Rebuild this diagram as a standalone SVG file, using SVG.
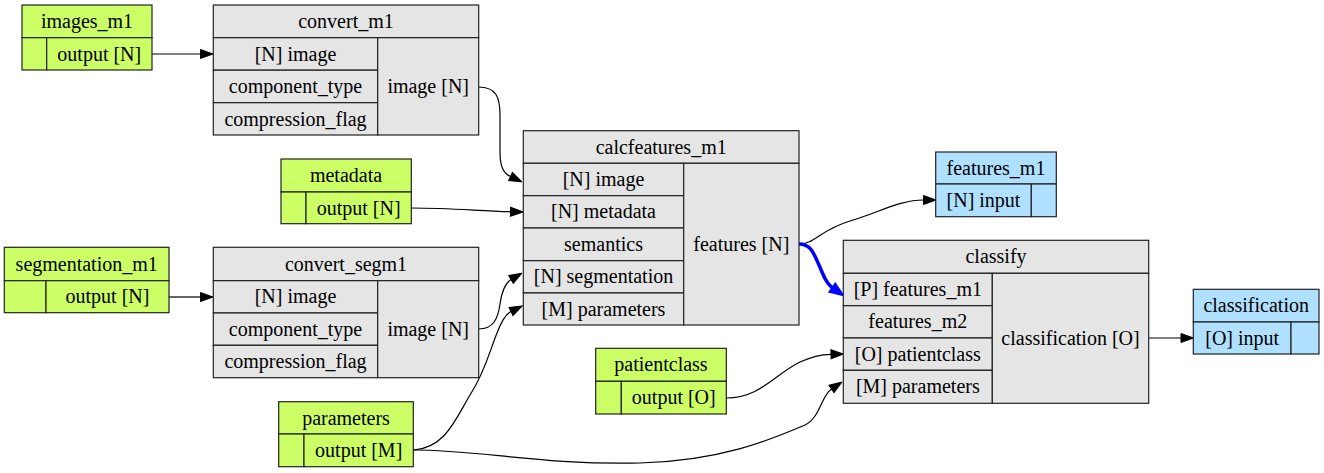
<svg xmlns="http://www.w3.org/2000/svg" width="1324" height="473" viewBox="0 0 1324 473">
<style>
.g{fill:#ccff66;stroke:#222;stroke-width:1.2}
.b{fill:#b0e0ff;stroke:#222;stroke-width:1.2}
.p{fill:#e5e5e5;stroke:#222;stroke-width:1.2}
.e{fill:none;stroke:#000;stroke-width:1.2}
.eb{fill:none;stroke:#0000ff;stroke-width:3.5}
.t{font-family:'Liberation Serif','Times New Roman',serif;font-size:20px;text-anchor:middle;fill:#000}
</style>
<defs>
<marker id="ah" markerUnits="userSpaceOnUse" markerWidth="14" markerHeight="11" viewBox="0 0 14 11" refX="1" refY="5.5" orient="auto"><path d="M1,1 L13.5,5.5 L1,10 z" fill="#000" stroke="#000" stroke-width="1"/></marker>
<marker id="ahb" markerUnits="userSpaceOnUse" markerWidth="16" markerHeight="13" viewBox="0 0 16 13" refX="1" refY="6.5" orient="auto"><path d="M1.5,1.5 L14.5,6.5 L1.5,11.5 z" fill="#0000ff" stroke="#0000ff" stroke-width="2"/></marker>
</defs>

<g id="connectors">
<path class="e" d="M152,54 L200.5,54" marker-end="url(#ah)"/>
<path class="e" d="M478.5,87 C496,87 500,97 500,115 L500,152 C500,166 503,173 510.5,176.5" marker-end="url(#ah)"/>
<path class="e" d="M411.5,208 C450,208 480,211 510.5,211.7" marker-end="url(#ah)"/>
<path class="e" d="M169,297 L200.5,297" marker-end="url(#ah)"/>
<path class="e" d="M478.5,329 C494,329 498,318 500,304 C502,290 505,283 511,279.5" marker-end="url(#ah)"/>
<path class="e" d="M413.5,450 C445,448 455,420 470,395 C485,372 490,350 497,333 C502,320 506,314 511,311.5" marker-end="url(#ah)"/>
<path class="e" d="M413.5,450 C480,450 540,465 640,463 C720,461 770,440 805,425 C820,418 821,396 831.5,389" marker-end="url(#ah)"/>
<path class="e" d="M799,244 C815,244 820,230 850,221 C880,212 900,200 923.5,200" marker-end="url(#ah)"/>
<path class="eb" d="M799,244 C811,244 814,254 819,265 C824,277 827,284 832,287.5" marker-end="url(#ahb)"/>
<path class="e" d="M726.5,398 C760,398 775,374 800,362 C813,356 822,354.5 831,354.3" marker-end="url(#ah)"/>
<path class="e" d="M1148.7,338 L1181,338" marker-end="url(#ah)"/>
</g>

<g id="images_m1">
<rect class="g" x="22" y="5" width="130" height="32.7"/>
<rect class="g" x="22" y="37.7" width="24.7" height="32.3"/>
<rect class="g" x="46.7" y="37.7" width="105.3" height="32.3"/>
<text class="t" x="87" y="28">images_m1</text>
<text class="t" x="99.3" y="60.5">output [N]</text>
</g>

<g id="convert_m1">
<rect class="p" x="213.3" y="5" width="265.4" height="32.7"/>
<rect class="p" x="213.3" y="37.7" width="164.4" height="32.5"/>
<rect class="p" x="213.3" y="70.2" width="164.4" height="32.5"/>
<rect class="p" x="213.3" y="102.7" width="164.4" height="32.3"/>
<rect class="p" x="377.7" y="37.7" width="101" height="97.3"/>
<text class="t" x="346" y="28">convert_m1</text>
<text class="t" x="295.5" y="60.5">[N] image</text>
<text class="t" x="295.5" y="93">component_type</text>
<text class="t" x="295.5" y="125.5">compression_flag</text>
<text class="t" x="428.2" y="93">image [N]</text>
</g>

<g id="metadata">
<rect class="g" x="281" y="159" width="130.3" height="33"/>
<rect class="g" x="281" y="192" width="25" height="31.7"/>
<rect class="g" x="306" y="192" width="105.3" height="31.7"/>
<text class="t" x="346" y="182">metadata</text>
<text class="t" x="358.7" y="214.5">output [N]</text>
</g>

<g id="segmentation_m1">
<rect class="g" x="4.3" y="247.3" width="164.7" height="33.4"/>
<rect class="g" x="4.3" y="280.7" width="41.7" height="32"/>
<rect class="g" x="46" y="280.7" width="123" height="32"/>
<text class="t" x="86.7" y="270.5">segmentation_m1</text>
<text class="t" x="107.5" y="303.2">output [N]</text>
</g>

<g id="convert_segm1">
<rect class="p" x="213.3" y="247.3" width="265.4" height="33.4"/>
<rect class="p" x="213.3" y="280.7" width="164.4" height="32.3"/>
<rect class="p" x="213.3" y="313" width="164.4" height="32.3"/>
<rect class="p" x="213.3" y="345.3" width="164.4" height="32.4"/>
<rect class="p" x="377.7" y="280.7" width="101" height="97"/>
<text class="t" x="346" y="270.5">convert_segm1</text>
<text class="t" x="295.5" y="303.3">[N] image</text>
<text class="t" x="295.5" y="335.6">component_type</text>
<text class="t" x="295.5" y="368">compression_flag</text>
<text class="t" x="428.2" y="335.7">image [N]</text>
</g>

<g id="parameters">
<rect class="g" x="278.7" y="401.7" width="134.6" height="32.3"/>
<rect class="g" x="278.7" y="434" width="25.3" height="32.7"/>
<rect class="g" x="304" y="434" width="109.3" height="32.7"/>
<text class="t" x="346" y="424.5">parameters</text>
<text class="t" x="358.7" y="456.8">output [M]</text>
</g>

<g id="calcfeatures_m1">
<rect class="p" x="523.3" y="130.7" width="275.7" height="32.6"/>
<rect class="p" x="523.3" y="163.3" width="160.4" height="32.4"/>
<rect class="p" x="523.3" y="195.7" width="160.4" height="32.3"/>
<rect class="p" x="523.3" y="228" width="160.4" height="32.7"/>
<rect class="p" x="523.3" y="260.7" width="160.4" height="32.3"/>
<rect class="p" x="523.3" y="293" width="160.4" height="32"/>
<rect class="p" x="683.7" y="163.3" width="115.3" height="161.7"/>
<text class="t" x="661.2" y="153.5">calcfeatures_m1</text>
<text class="t" x="603.5" y="186">[N] image</text>
<text class="t" x="603.5" y="218.3">[N] metadata</text>
<text class="t" x="603.5" y="250.8">semantics</text>
<text class="t" x="603.5" y="283.3">[N] segmentation</text>
<text class="t" x="603.5" y="315.5">[M] parameters</text>
<text class="t" x="741.3" y="250.5">features [N]</text>
</g>

<g id="patientclass">
<rect class="g" x="595.7" y="348.3" width="130.6" height="33"/>
<rect class="g" x="595.7" y="381.3" width="25.6" height="32.7"/>
<rect class="g" x="621.3" y="381.3" width="105" height="32.7"/>
<text class="t" x="661" y="371.2">patientclass</text>
<text class="t" x="673.8" y="404">output [O]</text>
</g>

<g id="features_m1">
<rect class="b" x="935.7" y="152" width="120.6" height="32"/>
<rect class="b" x="935.7" y="184" width="95.6" height="32.7"/>
<rect class="b" x="1031.3" y="184" width="25" height="32.7"/>
<text class="t" x="996" y="174.5">features_m1</text>
<text class="t" x="983.5" y="206.8">[N] input</text>
</g>

<g id="classify">
<rect class="p" x="843.3" y="240.3" width="305.4" height="33"/>
<rect class="p" x="843.3" y="273.3" width="149" height="32.4"/>
<rect class="p" x="843.3" y="305.7" width="149" height="32.3"/>
<rect class="p" x="843.3" y="338" width="149" height="32.3"/>
<rect class="p" x="843.3" y="370.3" width="149" height="33"/>
<rect class="p" x="992.3" y="273.3" width="156.4" height="130"/>
<text class="t" x="996" y="263.3">classify</text>
<text class="t" x="917.8" y="296">[P] features_m1</text>
<text class="t" x="917.8" y="328.3">features_m2</text>
<text class="t" x="917.8" y="360.7">[O] patientclass</text>
<text class="t" x="917.8" y="393.3">[M] parameters</text>
<text class="t" x="1070.5" y="344.8">classification [O]</text>
</g>

<g id="classification">
<rect class="b" x="1193.3" y="289.3" width="125.7" height="32.7"/>
<rect class="b" x="1193.3" y="322" width="97.7" height="32"/>
<rect class="b" x="1291" y="322" width="28" height="32"/>
<text class="t" x="1256.2" y="312.2">classification</text>
<text class="t" x="1242.2" y="344.5">[O] input</text>
</g>
</svg>
